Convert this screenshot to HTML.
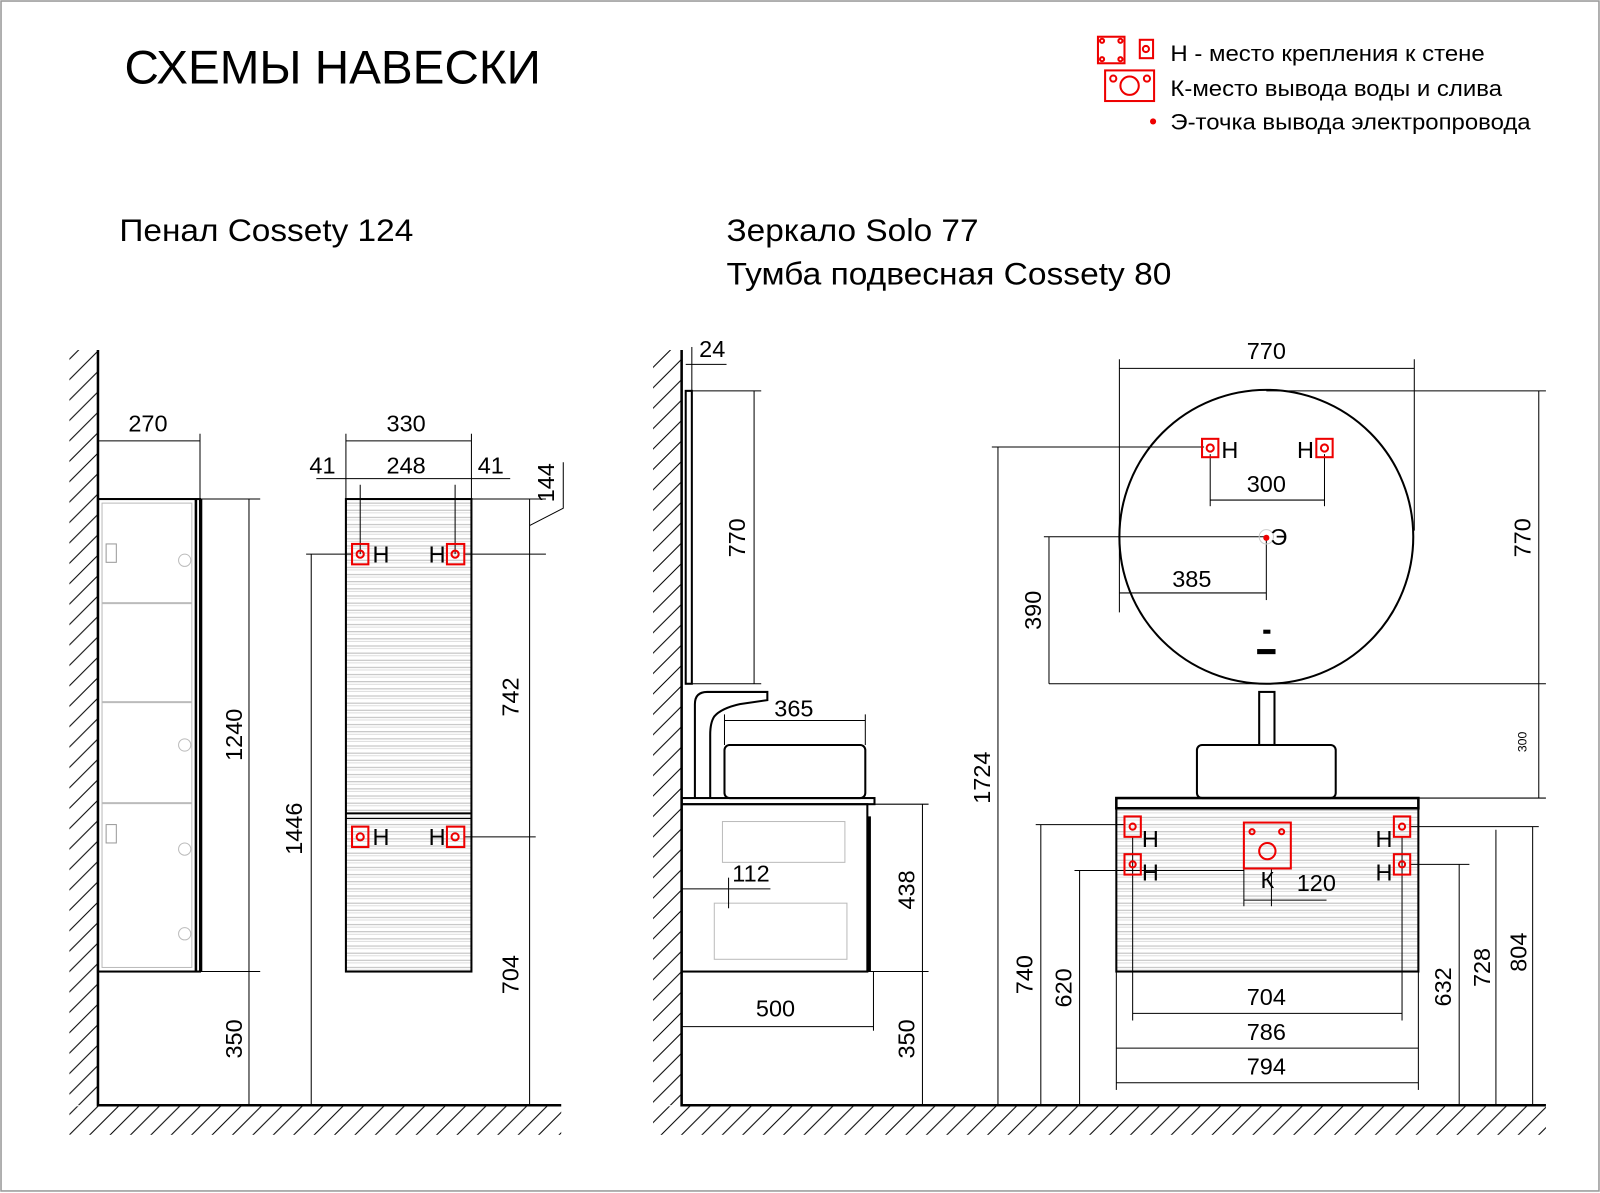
<!DOCTYPE html>
<html><head><meta charset="utf-8"><style>
html,body{margin:0;padding:0;background:#fff}
svg{display:block}
text{font-family:"Liberation Sans","DejaVu Sans",sans-serif;fill:#000}
</style></head><body>
<svg width="1600" height="1193" viewBox="0 0 1568 1169" preserveAspectRatio="none" xmlns="http://www.w3.org/2000/svg">
<defs>
<pattern id="h" patternUnits="userSpaceOnUse" width="20" height="20">
<path d="M0,20 L20,0 M-5,5 L5,-5 M15,25 L25,15" stroke="#000" stroke-width="1"/>
</pattern>
<pattern id="s" patternUnits="userSpaceOnUse" width="10" height="7">
<line x1="0" y1="3" x2="10" y2="3" stroke="#bbb" stroke-width="1"/>
<line x1="0" y1="5.5" x2="10" y2="5.5" stroke="#ddd" stroke-width="1"/>
</pattern>
</defs>
<rect x="1" y="1" width="1566" height="1166" fill="none" stroke="#999" stroke-width="1.5"/>

<text x="122" y="82" font-size="46" textLength="408" lengthAdjust="spacingAndGlyphs">СХЕМЫ НАВЕСКИ</text>
<g fill="none" stroke="#e00" stroke-width="2">
<rect x="1076" y="36" width="26" height="26"/><circle cx="1080" cy="40" r="2"/><circle cx="1098" cy="40" r="2"/><circle cx="1080" cy="58" r="2"/><circle cx="1098" cy="58" r="2"/>
<rect x="1117" y="39" width="13" height="18"/><circle cx="1123" cy="48" r="3"/>
<rect x="1083" y="69" width="48" height="30"/><circle cx="1107" cy="84" r="9"/><circle cx="1091" cy="77" r="3"/><circle cx="1124" cy="77" r="3"/>
</g>
<circle cx="1130" cy="119" r="3" fill="#e00"/>
<text x="1147" y="60" font-size="22" textLength="308" lengthAdjust="spacingAndGlyphs">Н - место крепления к стене</text>
<text x="1147" y="94" font-size="22" textLength="325" lengthAdjust="spacingAndGlyphs">К-место вывода воды и слива</text>
<text x="1147" y="127" font-size="22" textLength="353" lengthAdjust="spacingAndGlyphs">Э-точка вывода электропровода</text>

<text x="117" y="236" font-size="31" textLength="288" lengthAdjust="spacingAndGlyphs">Пенал Cossety 124</text>
<text x="712" y="236" font-size="31" textLength="247" lengthAdjust="spacingAndGlyphs">Зеркало Solo 77</text>
<text x="712" y="279" font-size="31" textLength="436" lengthAdjust="spacingAndGlyphs">Тумба подвесная Cossety 80</text>

<rect x="68" y="343" width="28" height="740" fill="url(#h)"/>
<rect x="68" y="1084" width="482" height="28" fill="url(#h)"/>
<rect x="640" y="343" width="28" height="740" fill="url(#h)"/>
<rect x="640" y="1084" width="875" height="28" fill="url(#h)"/>
<g stroke="#000" stroke-width="2.5" fill="none">
<path d="M96,343 V1083 H550"/>
<path d="M668,343 V1083 H1515"/>
</g>

<g stroke="#000" stroke-width="1" fill="none">
<rect x="96" y="489" width="100" height="463" stroke-width="2"/>
<rect x="100" y="493" width="88" height="455" stroke="#bbb"/>
<line x1="100" y1="591" x2="188" y2="591" stroke="#bbb" stroke-width="2"/>
<line x1="100" y1="688" x2="188" y2="688" stroke="#bbb" stroke-width="2"/>
<line x1="100" y1="787" x2="188" y2="787" stroke="#bbb" stroke-width="2"/>
<path d="M192,489 V952 M197,489 V952" stroke-width="2.5"/>
<circle cx="181" cy="549" r="6" stroke="#bbb"/><circle cx="181" cy="730" r="6" stroke="#bbb"/><circle cx="181" cy="832" r="6" stroke="#bbb"/><circle cx="181" cy="915" r="6" stroke="#bbb"/>
<rect x="104" y="533" width="10" height="18" stroke="#999"/><rect x="104" y="808" width="10" height="18" stroke="#999"/>
<line x1="96" y1="432" x2="196" y2="432"/><line x1="196" y1="425" x2="196" y2="489"/>
<line x1="196" y1="489" x2="255" y2="489"/><line x1="196" y1="952" x2="255" y2="952"/>
<line x1="244" y1="489" x2="244" y2="1083"/>

<rect x="339" y="489" width="123" height="463" fill="url(#s)" stroke-width="2"/>
<line x1="339" y1="797" x2="462" y2="797" stroke-width="2"/>
<line x1="339" y1="802" x2="462" y2="802" stroke-width="1"/>
<line x1="339" y1="432" x2="462" y2="432"/>
<line x1="339" y1="425" x2="339" y2="489"/><line x1="462" y1="425" x2="462" y2="489"/>
<line x1="310" y1="469" x2="500" y2="469"/>
<line x1="353" y1="475" x2="353" y2="543"/><line x1="446" y1="475" x2="446" y2="543"/>
<line x1="462" y1="489" x2="535" y2="489"/>
<line x1="300" y1="543" x2="346" y2="543"/><line x1="455" y1="543" x2="535" y2="543"/>
<line x1="455" y1="820" x2="525" y2="820"/>
<line x1="305" y1="543" x2="305" y2="1083"/>
<line x1="519" y1="489" x2="519" y2="1083"/>
<path d="M519,515 L552,498 V453"/>

<rect x="672" y="383" width="6" height="287" stroke-width="2"/>
<line x1="678" y1="383" x2="746" y2="383"/><line x1="678" y1="670" x2="746" y2="670"/>
<line x1="739" y1="383" x2="739" y2="670"/>
<line x1="672" y1="357" x2="712" y2="357"/><line x1="678" y1="340" x2="678" y2="383"/>
<path d="M681,782 V690 Q681,678 693,678 H752 V686 L725,690 Q707,694 700,702 Q696,708 696,720 V782" stroke-width="2"/>
<rect x="710" y="730" width="138" height="52" rx="5" stroke-width="2"/>
<line x1="710" y1="706" x2="848" y2="706"/><line x1="710" y1="700" x2="710" y2="730"/><line x1="848" y1="700" x2="848" y2="730"/>
<rect x="668" y="782" width="189" height="6" stroke-width="2"/>
<rect x="668" y="788" width="182" height="164" stroke-width="2"/>
<path d="M852,800 V952" stroke-width="3"/>
<rect x="708" y="805" width="120" height="40" stroke="#bbb"/><rect x="700" y="885" width="130" height="55" stroke="#bbb"/>
<line x1="668" y1="871" x2="715" y2="871"/><line x1="714" y1="860" x2="714" y2="890"/><line x1="715" y1="871" x2="755" y2="871"/>
<line x1="668" y1="1006" x2="856" y2="1006"/><line x1="856" y1="952" x2="856" y2="1010"/>
<line x1="850" y1="788" x2="910" y2="788"/><line x1="850" y1="952" x2="910" y2="952"/>
<line x1="904" y1="788" x2="904" y2="1083"/>

<line x1="972" y1="438" x2="1180" y2="438"/>
<line x1="978" y1="438" x2="978" y2="1083"/>

<circle cx="1241" cy="526" r="144" stroke-width="2"/>
<line x1="1097" y1="361" x2="1386" y2="361"/><line x1="1097" y1="352" x2="1097" y2="600"/><line x1="1386" y1="352" x2="1386" y2="520"/>
<line x1="1241" y1="383" x2="1515" y2="383"/><line x1="1028" y1="670" x2="1515" y2="670"/>
<line x1="1508" y1="383" x2="1508" y2="782"/>
<line x1="1186" y1="445" x2="1186" y2="496"/><line x1="1298" y1="445" x2="1298" y2="496"/><line x1="1186" y1="490" x2="1298" y2="490"/>
<line x1="1023" y1="526" x2="1241" y2="526"/><line x1="1028" y1="526" x2="1028" y2="670"/>
<line x1="1097" y1="581" x2="1241" y2="581"/><line x1="1241" y1="526" x2="1241" y2="588"/>

<rect x="1234" y="678" width="15" height="52" stroke-width="2"/>
<rect x="1173" y="730" width="136" height="52" rx="5" stroke-width="2"/>
<rect x="1094" y="782" width="296" height="10" stroke-width="2.5"/>
<rect x="1094" y="792" width="296" height="160" fill="url(#s)" stroke-width="2"/>
<line x1="1390" y1="782" x2="1515" y2="782"/>
<line x1="1015" y1="808" x2="1102" y2="808"/><line x1="1053" y1="853" x2="1219" y2="853"/>
<line x1="1382" y1="810" x2="1508" y2="810"/><line x1="1382" y1="847" x2="1440" y2="847"/>
<line x1="1020" y1="808" x2="1020" y2="1083"/><line x1="1058" y1="853" x2="1058" y2="1083"/>
<line x1="1430" y1="847" x2="1430" y2="1083"/><line x1="1466" y1="813" x2="1466" y2="1083"/><line x1="1502" y1="810" x2="1502" y2="1083"/>
<line x1="1110" y1="820" x2="1110" y2="1000"/><line x1="1374" y1="820" x2="1374" y2="1000"/>
<line x1="1110" y1="993" x2="1374" y2="993"/>
<line x1="1094" y1="952" x2="1094" y2="1068"/><line x1="1390" y1="952" x2="1390" y2="1068"/>
<line x1="1094" y1="1027" x2="1390" y2="1027"/><line x1="1094" y1="1061" x2="1390" y2="1061"/>
<line x1="1219" y1="851" x2="1219" y2="888"/><line x1="1246" y1="851" x2="1246" y2="888"/><line x1="1219" y1="882" x2="1300" y2="882"/>
</g>

<g fill="none" stroke="#e00" stroke-width="2">
<rect x="345" y="533" width="16" height="20"/><circle cx="353" cy="543" r="3.5"/>
<rect x="438" y="533" width="17" height="20"/><circle cx="446" cy="543" r="3.5"/>
<rect x="345" y="810" width="16" height="20"/><circle cx="353" cy="820" r="3.5"/>
<rect x="438" y="810" width="17" height="20"/><circle cx="446" cy="820" r="3.5"/>
<rect x="1178" y="430" width="16" height="18"/><circle cx="1186" cy="439" r="3.5"/>
<rect x="1290" y="430" width="16" height="18"/><circle cx="1298" cy="439" r="3.5"/>
<rect x="1102" y="800" width="16" height="20"/><circle cx="1110" cy="810" r="3"/>
<rect x="1102" y="837" width="16" height="20"/><circle cx="1110" cy="847" r="3"/>
<rect x="1366" y="800" width="16" height="20"/><circle cx="1374" cy="810" r="3"/>
<rect x="1366" y="837" width="16" height="20"/><circle cx="1374" cy="847" r="3"/>
<rect x="1219" y="806" width="46" height="45"/><circle cx="1242" cy="834" r="8"/><circle cx="1227" cy="815" r="2.5"/><circle cx="1256" cy="815" r="2.5"/>
</g>
<circle cx="1241" cy="526" r="7" fill="none" stroke="#ccc"/>
<circle cx="1241" cy="527" r="3" fill="#e00"/>
<rect x="1238" y="617" width="7" height="4" fill="#000"/><rect x="1232" y="636" width="18" height="5" fill="#000"/>

<g font-size="23">
<text x="145" y="423" text-anchor="middle">270</text>
<text x="398" y="423" text-anchor="middle">330</text>
<text x="316" y="464" text-anchor="middle">41</text>
<text x="398" y="464" text-anchor="middle">248</text>
<text x="481" y="464" text-anchor="middle">41</text>
<text x="365" y="551">Н</text><text x="420" y="551">Н</text>
<text x="365" y="828">Н</text><text x="420" y="828">Н</text>
<text x="698" y="350" text-anchor="middle">24</text>
<text x="778" y="702" text-anchor="middle">365</text>
<text x="736" y="864" text-anchor="middle">112</text>
<text x="760" y="996" text-anchor="middle">500</text>
<text x="1241" y="352" text-anchor="middle">770</text>
<text x="1197" y="449">Н</text><text x="1271" y="449">Н</text>
<text x="1241" y="482" text-anchor="middle">300</text>
<text x="1245" y="534">Э</text>
<text x="1168" y="575" text-anchor="middle">385</text>
<text x="1119" y="830">Н</text><text x="1119" y="863">Н</text>
<text x="1348" y="830">Н</text><text x="1348" y="863">Н</text>
<text x="1242" y="870" text-anchor="middle">К</text>
<text x="1290" y="873" text-anchor="middle">120</text>
<text x="1241" y="985" text-anchor="middle">704</text>
<text x="1241" y="1019" text-anchor="middle">786</text>
<text x="1241" y="1053" text-anchor="middle">794</text>
<text transform="rotate(-90 237 720)" x="237" y="720" text-anchor="middle">1240</text>
<text transform="rotate(-90 237 1018)" x="237" y="1018" text-anchor="middle">350</text>
<text transform="rotate(-90 296 812)" x="296" y="812" text-anchor="middle">1446</text>
<text transform="rotate(-90 508 683)" x="508" y="683" text-anchor="middle">742</text>
<text transform="rotate(-90 508 955)" x="508" y="955" text-anchor="middle">704</text>
<text transform="rotate(-90 543 473)" x="543" y="473" text-anchor="middle">144</text>
<text transform="rotate(-90 730 527)" x="730" y="527" text-anchor="middle">770</text>
<text transform="rotate(-90 896 872)" x="896" y="872" text-anchor="middle">438</text>
<text transform="rotate(-90 896 1018)" x="896" y="1018" text-anchor="middle">350</text>
<text transform="rotate(-90 970 762)" x="970" y="762" text-anchor="middle">1724</text>
<text transform="rotate(-90 1020 598)" x="1020" y="598" text-anchor="middle">390</text>
<text transform="rotate(-90 1500 527)" x="1500" y="527" text-anchor="middle">770</text>
<text transform="rotate(-90 1012 955)" x="1012" y="955" text-anchor="middle">740</text>
<text transform="rotate(-90 1050 968)" x="1050" y="968" text-anchor="middle">620</text>
<text transform="rotate(-90 1422 967)" x="1422" y="967" text-anchor="middle">632</text>
<text transform="rotate(-90 1460 948)" x="1460" y="948" text-anchor="middle">728</text>
<text transform="rotate(-90 1496 933)" x="1496" y="933" text-anchor="middle">804</text>
</g>
<text transform="rotate(-90 1496 727)" x="1496" y="727" text-anchor="middle" font-size="12">300</text>
</svg>
</body></html>
